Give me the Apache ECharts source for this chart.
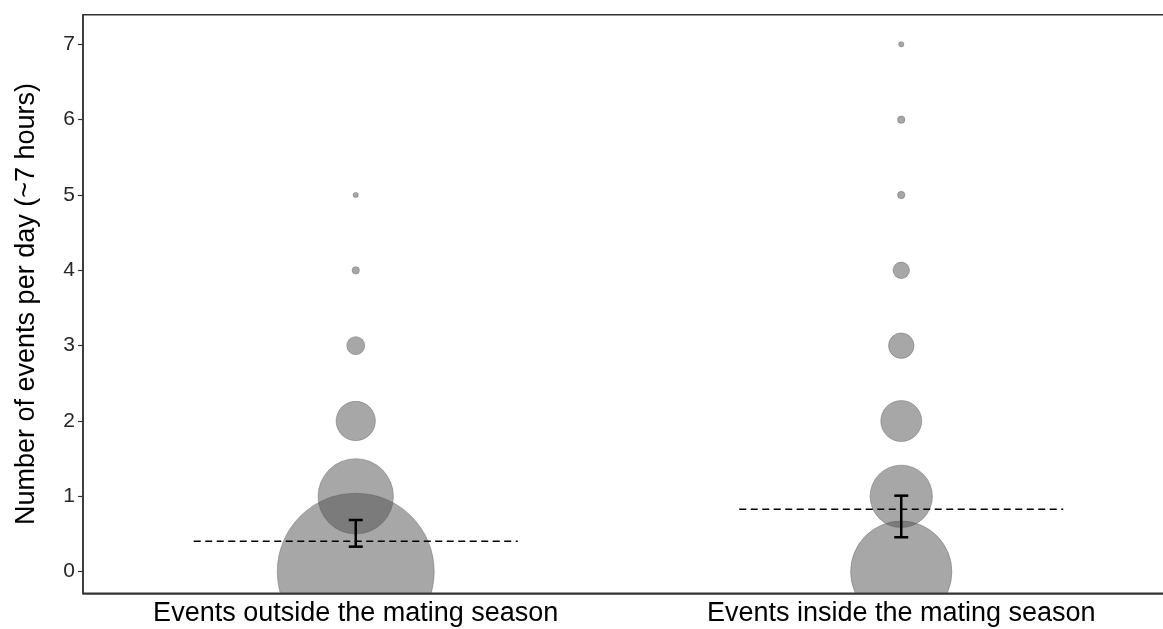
<!DOCTYPE html>
<html>
<head>
<meta charset="utf-8">
<script src="https://cdn.jsdelivr.net/npm/echarts@6/dist/echarts.min.js"></script>
<style>
  html, body { margin: 0; padding: 0; background: #fff; }
  #chart { width: 1163px; height: 629px; }
</style>
</head>
<body>
<div id="chart"></div>
<script>
// Groups on the x axis
const categories = ['Events outside the mating season', 'Events inside the mating season'];
// Possible daily event counts (y values)
const eventLevels = [0, 1, 2, 3, 4, 5, 6, 7];
// Number of days observed at each level, per group
const daysOutside = [911, 210, 57, 12, 2, 1, 0, 0];
const daysInside = [379, 144, 62, 24, 10, 2, 2, 1];
// Estimated mean and its confidence interval, per group
const meanEvents = [0.403, 0.828];
const ciLower = [0.332, 0.457];
const ciUpper = [0.686, 1.009];
// Y tick labels
const yTicks = [0, 1, 2, 3, 4, 5, 6, 7];

const FONT = 'Liberation Sans, Arial, sans-serif';
const SIZE_K = 5.2;       // bubble diameter per sqrt(count)
const MEAN_HALF = 0.297;  // half width of the mean line, in category bands
const CAP_HALF = 7;       // half width of the error-bar caps, px

const bubbleData = [];
[daysOutside, daysInside].forEach((counts, g) => {
  counts.forEach((n, k) => {
    if (n > 0) bubbleData.push([g, eventLevels[k], n]);
  });
});

const chart = echarts.init(document.getElementById('chart'), null, { renderer: 'canvas' });

chart.setOption({
  animation: false,
  backgroundColor: '#fff',
  textStyle: { fontFamily: FONT },
  grid: {
    left: 83, top: 14.7, right: -11, bottom: 35.7,
    show: true, borderColor: '#333', borderWidth: 1.5,
    backgroundColor: 'transparent',
    containLabel: false, outerBoundsMode: 'none'
  },
  xAxis: {
    type: 'category',
    data: categories,
    boundaryGap: true,
    axisLine: { show: true, onZero: false, lineStyle: { color: '#333', width: 1.5 } },
    axisTick: { show: false },
    axisLabel: { fontSize: 27, color: '#000', margin: 7, fontFamily: FONT },
    splitLine: { show: false }
  },
  yAxis: {
    type: 'value',
    min: -0.287, max: 7.393,
    name: 'Number of events per day (~7 hours)',
    nameLocation: 'middle',
    nameGap: 43,
    nameTextStyle: { fontSize: 27, color: '#000', fontFamily: FONT },
    axisLine: { show: true, lineStyle: { color: '#333', width: 1.5 } },
    axisTick: { show: true, length: 5, lineStyle: { color: '#333', width: 1.2 }, customValues: yTicks },
    axisLabel: { fontSize: 21, color: '#262626', margin: 8, fontFamily: FONT, customValues: yTicks },
    splitLine: { show: false }
  },
  series: [
    {
      type: 'custom',
      clip: true,
      data: bubbleData,
      renderItem: function (params, api) {
        const c = api.coord([api.value(0), api.value(1)]);
        const r = SIZE_K * Math.sqrt(api.value(2)) / 2;
        return {
          type: 'circle',
          shape: { cx: c[0], cy: c[1], r: r },
          style: { fill: 'rgba(80,80,80,0.5)', stroke: 'rgba(90,90,90,0.4)', lineWidth: 1 }
        };
      },
      z: 1
    },
    {
      type: 'custom',
      data: meanEvents.map((m, i) => [i, m]),
      renderItem: function (params, api) {
        const c = api.coord([api.value(0), api.value(1)]);
        const band = api.coord([1, 0])[0] - api.coord([0, 0])[0];
        return {
          type: 'line',
          shape: { x1: c[0] - MEAN_HALF * band, y1: c[1], x2: c[0] + MEAN_HALF * band, y2: c[1] },
          style: { stroke: '#000', lineWidth: 1.5, lineDash: [7, 4.5] }
        };
      },
      z: 2
    },
    {
      type: 'custom',
      data: ciLower.map((lo, i) => [i, lo, ciUpper[i]]),
      renderItem: function (params, api) {
        const lo = api.coord([api.value(0), api.value(1)]);
        const hi = api.coord([api.value(0), api.value(2)]);
        const x = lo[0];
        const st = { stroke: '#000', lineWidth: 2.5 };
        return {
          type: 'group',
          children: [
            { type: 'line', shape: { x1: x, y1: lo[1], x2: x, y2: hi[1] }, style: st },
            { type: 'line', shape: { x1: x - CAP_HALF, y1: lo[1], x2: x + CAP_HALF, y2: lo[1] }, style: st },
            { type: 'line', shape: { x1: x - CAP_HALF, y1: hi[1], x2: x + CAP_HALF, y2: hi[1] }, style: st }
          ]
        };
      },
      z: 3
    }
  ]
});
</script>
</body>
</html>
